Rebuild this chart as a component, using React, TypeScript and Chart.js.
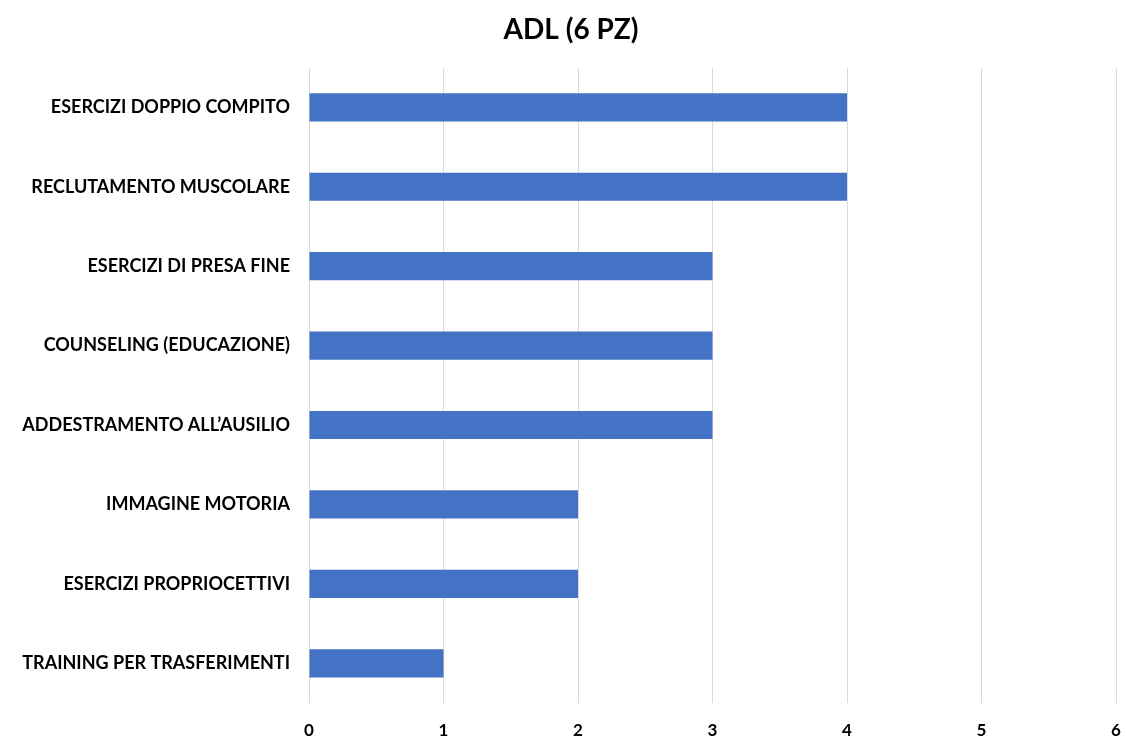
import React, { useEffect, useRef } from "react";
import { Chart, registerables } from "chart.js";

Chart.register(...registerables);

const categories = [
  "ESERCIZI DOPPIO COMPITO",
  "RECLUTAMENTO MUSCOLARE",
  "ESERCIZI DI PRESA FINE",
  "COUNSELING (EDUCAZIONE)",
  "ADDESTRAMENTO ALL\u2019AUSILIO",
  "IMMAGINE MOTORIA",
  "ESERCIZI PROPRIOCETTIVI",
  "TRAINING PER TRASFERIMENTI",
];
const patientCounts = [4, 4, 3, 3, 3, 2, 2, 1];
const xTicks = [0, 1, 2, 3, 4, 5, 6];
const chartTitle = "ADL (6 PZ)";

const FONT = "Lato, 'Open Sans', sans-serif";
const WIDTH = 1126;
const HEIGHT = 738;

// Nudges the title block a little to the right of the canvas centre.
const titleOffset = {
  id: "titleOffset",
  afterLayout(chart: any) {
    if (chart.titleBlock) {
      chart.titleBlock.left += 18;
    }
  },
};

export default function App() {
  const canvasRef = useRef<HTMLCanvasElement | null>(null);

  useEffect(() => {
    if (!canvasRef.current) return;
    const chart = new Chart(canvasRef.current, {
      type: "bar",
      data: {
        labels: categories,
        datasets: [
          {
            data: patientCounts,
            backgroundColor: "#4472C4",
            borderWidth: 0,
            categoryPercentage: 1,
            barPercentage: 0.355,
          },
        ],
      },
      plugins: [titleOffset],
      options: {
        indexAxis: "y",
        animation: false,
        responsive: false,
        devicePixelRatio: 1,
        layout: { padding: { top: 13, right: 10, bottom: 0, left: 8 } },
        plugins: {
          legend: { display: false },
          tooltip: { enabled: false },
          title: {
            display: true,
            text: chartTitle,
            color: "#000",
            font: { family: FONT, size: 28, weight: "bold" },
            padding: { top: 0, bottom: 21 },
          },
        },
        scales: {
          x: {
            min: xTicks[0],
            max: xTicks[xTicks.length - 1],
            afterBuildTicks: (axis: any) => {
              axis.ticks = xTicks.map((v) => ({ value: v }));
            },
            afterFit: (axis: any) => {
              axis.height = 35;
              // the tick padding only pushes labels downward here
              axis.paddingLeft = 0;
              axis.paddingRight = 0;
            },
            grid: { color: "#d9d9d9", lineWidth: 1, drawTicks: false },
            border: { display: false },
            ticks: {
              color: "#000",
              padding: 17,
              font: { family: FONT, size: 17, weight: "bold" },
            },
          },
          y: {
            afterFit: (axis: any) => {
              axis.width = 301;
            },
            grid: { display: false, drawTicks: false },
            border: { display: false },
            ticks: {
              color: "#000",
              padding: 19,
              font: { family: FONT, size: 18, weight: "bold" },
            },
          },
        },
      },
    });
    return () => chart.destroy();
  }, []);

  return (
    <div
      style={{
        position: "fixed",
        left: 0,
        top: 0,
        width: WIDTH,
        height: HEIGHT,
        background: "#fff",
        overflow: "hidden",
      }}
    >
      <canvas
        ref={canvasRef}
        width={WIDTH}
        height={HEIGHT}
        style={{ display: "block", width: WIDTH, height: HEIGHT }}
      />
    </div>
  );
}
